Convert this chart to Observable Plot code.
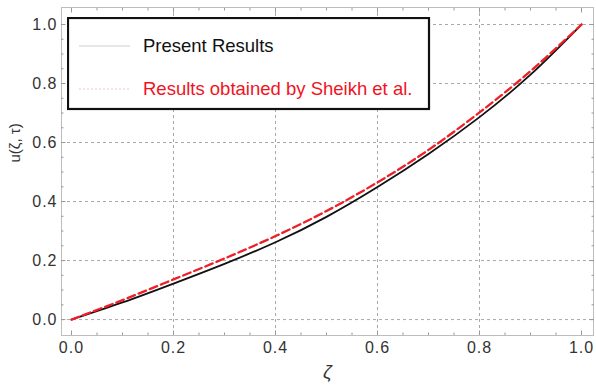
<!DOCTYPE html>
<html>
<head>
<meta charset="utf-8">
<script src="https://cdn.jsdelivr.net/npm/d3@7"></script>
<script src="https://cdn.jsdelivr.net/npm/@observablehq/plot@0.6"></script>
<style>
  body { margin: 0; background: #fff; }
  #chart { position: relative; width: 596px; height: 388px; }
  #chart > svg.legend { position: absolute; left: 67px; top: 17px; }
  .velo [aria-label="x-axis tick label"] text,
  .velo [aria-label="y-axis tick label"] text { letter-spacing: 1px; }
</style>
</head>
<body>
<div id="chart"></div>
<script>
// Velocity profile u(ζ, τ) across the channel
const zeta     = [0, 0.1, 0.2, 0.3, 0.4, 0.5, 0.6, 0.7, 0.8, 0.9, 1.0];
const presentU = [0, 0.058, 0.122, 0.189, 0.262, 0.348, 0.449, 0.561, 0.686, 0.830, 1.0];
const sheikhU  = [0, 0.066, 0.136, 0.207, 0.283, 0.368, 0.465, 0.575, 0.702, 0.842, 1.0];

// Tick and grid positions
const majorTicks = [0, 0.2, 0.4, 0.6, 0.8, 1.0];
const minorTicks = d3.range(0, 21).map(i => i * 0.05);
const xGridLines = [0.2, 0.4, 0.6, 0.8];
const yGridLines = [0, 0.2, 0.4, 0.6, 0.8, 1.0];

const seriesLabels = ["Present Results", "Results obtained by Sheikh et al."];

const rows = zeta.map((z, i) => ({zeta: z, present: presentU[i], sheikh: sheikhU[i]}));
const fmt = d3.format(".1f");
const tickColor = "#9a9a9a";
const gridColor = "#a8a8a8";

const chart = Plot.plot({
  width: 596,
  height: 388,
  marginLeft: 61,
  marginRight: 3,
  marginTop: 7,
  marginBottom: 53,
  className: "velo",
  style: {fontFamily: "'Liberation Sans', Arial, sans-serif", background: "#fff"},
  x: {domain: [-0.0196, 1.0235]},
  y: {domain: [-0.054, 1.0576]},
  marks: [
    Plot.gridX(xGridLines, {stroke: gridColor, strokeOpacity: 1, strokeDasharray: "3,3"}),
    Plot.gridY(yGridLines, {stroke: gridColor, strokeOpacity: 1, strokeDasharray: "3,3"}),
    Plot.frame({stroke: "#bdbdbd"}),
    // inward frame ticks on all four sides
    Plot.axisX(minorTicks, {anchor: "bottom", tickSize: -2.5, tickFormat: () => "", stroke: tickColor, label: null}),
    Plot.axisX(minorTicks, {anchor: "top", tickSize: -2.5, tickFormat: () => "", stroke: tickColor, label: null}),
    Plot.axisY(minorTicks, {anchor: "left", tickSize: -2.5, tickFormat: () => "", stroke: tickColor, label: null}),
    Plot.axisY(minorTicks, {anchor: "right", tickSize: -2.5, tickFormat: () => "", stroke: tickColor, label: null}),
    Plot.axisX(majorTicks, {anchor: "bottom", tickSize: -4.5, tickFormat: () => "", stroke: tickColor, label: null}),
    Plot.axisX(majorTicks, {anchor: "top", tickSize: -4.5, tickFormat: () => "", stroke: tickColor, label: null}),
    Plot.axisY(majorTicks, {anchor: "left", tickSize: -4.5, tickFormat: () => "", stroke: tickColor, label: null}),
    Plot.axisY(majorTicks, {anchor: "right", tickSize: -4.5, tickFormat: () => "", stroke: tickColor, label: null}),
    // tick labels
    Plot.axisX(majorTicks, {anchor: "bottom", tickSize: 0, tickPadding: 6, tickFormat: fmt, fontSize: 16, fill: "#333", label: null}),
    Plot.axisY(majorTicks, {anchor: "left", tickSize: 0, tickPadding: 4, tickFormat: fmt, fontSize: 16, fill: "#333", label: null}),
    // axis titles
    Plot.text(["u(ζ, τ)"], {text: d => d, frameAnchor: "left", dx: -46, dy: -9, rotate: -90, fontSize: 15, fill: "#333"}),
    Plot.text(["ζ"], {text: d => d, frameAnchor: "bottom", dy: 42, fontSize: 19, fontStyle: "italic", fill: "#333"}),
    // curves
    Plot.line(rows, {x: "zeta", y: "present", stroke: "#111", strokeWidth: 1.8, curve: "natural"}),
    Plot.line(rows, {x: "zeta", y: "sheikh", stroke: "#ee1f26", strokeWidth: 2.3, strokeDasharray: "8,4", curve: "natural"})
  ]
});

const host = document.getElementById("chart");
host.appendChild(chart);

// Boxed legend in the upper-left corner of the frame
const legend = d3.select(host).append("svg")
  .attr("class", "legend")
  .attr("width", 364)
  .attr("height", 94)
  .style("font-family", "'Liberation Sans', Arial, sans-serif");
legend.append("rect")
  .attr("x", 1).attr("y", 1).attr("width", 361).attr("height", 91)
  .attr("fill", "#fff").attr("stroke", "#111").attr("stroke-width", 2.2);
const entries = [
  {label: seriesLabels[0], color: "#111", sample: "#cfcfcf", dash: null, y: 29},
  {label: seriesLabels[1], color: "#f0141e", sample: "#f6c4c4", dash: "2,2", y: 72}
];
entries.forEach(e => {
  legend.append("line")
    .attr("x1", 12).attr("x2", 63).attr("y1", e.y).attr("y2", e.y)
    .attr("stroke", e.sample).attr("stroke-width", 1)
    .attr("stroke-dasharray", e.dash);
  legend.append("text")
    .attr("x", 76).attr("y", e.y + 6)
    .attr("font-size", 18.5)
    .attr("fill", e.color)
    .text(e.label);
});
</script>
</body>
</html>
